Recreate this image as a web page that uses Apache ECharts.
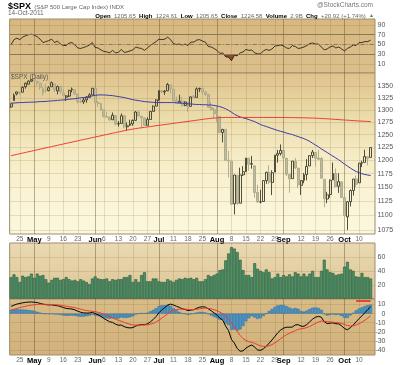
<!DOCTYPE html>
<html><head><meta charset="utf-8">
<script src="https://cdn.jsdelivr.net/npm/echarts@6/dist/echarts.min.js"></script>
<style>html,body{margin:0;padding:0;background:#fff}#c{width:400px;height:365px}</style>
</head><body><div id="c"></div>
<script>
const dates = ['4/19','4/20','4/21','4/25','4/26','4/27','4/28','4/29',
'5/2','5/3','5/4','5/5','5/6','5/9','5/10','5/11','5/12','5/13','5/16','5/17','5/18','5/19','5/20','5/23','5/24','5/25','5/26','5/27','5/31',
'6/1','6/2','6/3','6/6','6/7','6/8','6/9','6/10','6/13','6/14','6/15','6/16','6/17','6/20','6/21','6/22','6/23','6/24','6/27','6/28','6/29','6/30',
'7/1','7/5','7/6','7/7','7/8','7/11','7/12','7/13','7/14','7/15','7/18','7/19','7/20','7/21','7/22','7/25','7/26','7/27','7/28','7/29',
'8/1','8/2','8/3','8/4','8/5','8/8','8/9','8/10','8/11','8/12','8/15','8/16','8/17','8/18','8/19','8/22','8/23','8/24','8/25','8/26','8/29','8/30','8/31',
'9/1','9/2','9/6','9/7','9/8','9/9','9/12','9/13','9/14','9/15','9/16','9/19','9/20','9/21','9/22','9/23','9/26','9/27','9/28','9/29','9/30',
'10/3','10/4','10/5','10/6','10/7','10/10','10/11','10/12','10/13','10/14'];

const open = [1305.99,1319.12,1333.23,1337.14,1336.75,1348.43,1353.86,1360.14,
1365.21,1359.76,1355.90,1344.16,1340.24,1340.20,1348.34,1354.51,1339.39,1348.69,
1334.77,1326.10,1328.54,1342.40,1342.00,1333.07,1317.70,1316.36,1320.64,1325.69,
1331.10,1345.20,1314.55,1312.94,1300.26,1286.31,1284.63,1279.63,1288.26,
1271.31,1272.22,1287.87,1265.53,1268.58,1271.50,1278.40,1295.48,1286.60,1283.04,
1268.44,1280.21,1296.85,1307.64,1320.64,1339.59,1337.56,1339.62,1352.39,
1343.31,1319.61,1314.45,1317.74,1308.87,1315.94,1307.07,1328.66,1325.65,1343.80,
1344.32,1337.39,1331.91,1304.84,1300.12,1292.59,1286.56,1254.25,1260.23,1200.28,
1198.48,1120.23,1171.77,1121.30,1172.87,1178.86,1204.22,1192.89,1189.62,1140.47,
1123.55,1124.36,1162.16,1176.69,1158.85,1177.91,1209.76,1213.00,1219.12,1203.90,
1173.97,1165.85,1197.98,1185.37,1153.50,1162.59,1173.32,1189.44,1209.21,
1214.99,1204.50,1203.63,1164.55,1128.82,1136.91,1163.32,1175.39,1151.74,1159.93,
1131.21,1097.42,1124.03,1144.11,1165.03,1158.15,1194.60,1196.19,1206.96,1205.65];
const high = [1312.70,1334.03,1337.49,1337.55,1349.55,1357.49,1361.71,1364.56,
1370.58,1360.84,1355.90,1348.00,1354.36,1349.44,1359.44,1354.51,1351.05,1350.47,
1343.33,1330.42,1341.82,1346.82,1342.00,1333.07,1323.72,1325.86,1328.51,1334.62,
1345.20,1345.20,1318.03,1312.94,1300.26,1296.22,1287.04,1294.54,1288.26,
1277.04,1292.50,1287.87,1274.11,1279.82,1280.42,1297.62,1298.61,1286.60,1283.93,
1284.91,1296.80,1309.21,1321.97,1341.01,1340.89,1340.94,1356.48,1352.39,
1343.31,1327.17,1331.48,1326.88,1317.70,1315.94,1328.14,1330.43,1347.00,1346.10,
1344.32,1338.51,1331.91,1316.32,1304.16,1307.38,1286.56,1261.20,1260.23,1218.11,
1198.48,1172.88,1171.77,1186.29,1189.04,1204.49,1204.22,1208.47,1189.62,1154.54,
1145.49,1162.35,1178.56,1190.68,1181.23,1210.28,1220.10,1230.71,1229.29,1203.90,
1173.97,1198.62,1204.40,1185.37,1162.52,1176.41,1202.38,1209.11,1220.06,
1214.99,1220.39,1206.30,1164.55,1141.72,1164.19,1195.86,1184.71,1175.87,1159.93,
1138.99,1125.12,1146.07,1165.55,1171.40,1194.91,1199.24,1220.25,1207.46,1224.61];
const low = [1303.97,1319.12,1330.15,1331.47,1336.75,1344.25,1353.60,1358.69,
1358.59,1349.52,1341.50,1329.17,1335.58,1338.64,1348.34,1336.36,1332.03,1333.36,
1327.32,1318.51,1326.59,1336.36,1330.67,1312.88,1313.87,1311.80,1314.41,1325.69,
1331.10,1313.71,1305.61,1297.90,1284.72,1284.74,1277.42,1279.63,1268.28,
1265.64,1272.22,1261.90,1258.07,1267.40,1267.56,1278.40,1286.79,1262.87,1267.24,
1267.53,1280.21,1296.85,1307.64,1318.18,1334.30,1330.92,1339.62,1333.71,
1316.42,1313.33,1314.45,1306.51,1307.35,1295.92,1307.07,1323.65,1325.65,1336.95,
1331.09,1329.10,1303.49,1299.16,1282.86,1274.73,1254.03,1234.56,1199.54,1168.09,
1119.28,1101.54,1118.01,1121.30,1170.74,1178.86,1180.53,1184.36,1131.03,1122.05,
1121.09,1124.36,1156.30,1155.47,1135.91,1177.91,1195.77,1209.35,1203.85,1170.56,
1140.13,1165.85,1183.34,1148.37,1136.07,1157.44,1162.73,1189.44,1204.46,
1188.36,1201.19,1166.21,1114.22,1121.36,1131.07,1163.32,1150.40,1139.93,1131.34,
1098.92,1074.77,1115.68,1134.95,1150.26,1158.15,1187.30,1196.19,1190.58,1205.65];
const close = [1312.62,1330.36,1337.38,1335.25,1347.24,1355.66,1360.48,1363.61,
1361.22,1356.62,1347.32,1335.10,1340.20,1346.29,1357.16,1342.08,1348.65,1337.77,
1329.47,1328.98,1340.68,1343.60,1333.27,1317.37,1316.28,1320.47,1325.69,1331.10,
1345.20,1314.55,1312.94,1300.16,1286.17,1284.94,1279.56,1289.00,1270.98,
1271.83,1287.87,1265.42,1267.64,1271.50,1278.36,1295.52,1287.14,1283.50,1268.45,
1280.10,1296.67,1307.41,1320.64,1339.67,1337.88,1339.22,1353.22,1343.80,
1319.49,1313.64,1317.72,1308.87,1316.14,1305.44,1326.73,1325.84,1343.80,1345.02,
1337.43,1331.94,1304.89,1300.67,1292.28,1286.94,1254.05,1260.34,1200.07,1199.38,
1119.46,1172.53,1120.76,1172.64,1178.81,1204.49,1192.76,1193.89,1140.65,1123.53,
1123.82,1162.35,1177.60,1159.27,1176.80,1210.08,1212.92,1218.89,1204.42,1173.97,
1165.24,1198.62,1185.90,1154.23,1162.27,1172.87,1188.68,1209.11,1216.01,
1204.09,1202.09,1166.76,1129.56,1136.43,1162.95,1175.38,1151.06,1160.40,1131.42,
1099.23,1123.95,1144.03,1164.97,1155.46,1194.89,1195.54,1207.25,1203.66,1224.58];

const ma50 = [1314,1314,1314.5,1315,1315,1315.5,1315.5,1316,1316,1316.5,1317,1317,1317.5,1318,1318.5,1319,1319.5,1320,1320.5,1321,
1322,1322.5,1323,1324,1325,1325.5,1326.5,1327.5,1329,1330,1331,1331,1331,1330.5,1330,1329.5,1328.5,1327.5,1326.5,1325.5,
1324,1322.5,1321,1320,1319,1318,1317,1316.5,1316,1315.5,1315,1315,1315,1315,1315,1315,1315,1314.5,1314,1313.5,
1313,1312.5,1312,1311.5,1311,1311,1310.5,1310.5,1310,1310,1309,1308,1306.5,1304.5,1302,1299,1295,1291,1288,1285.5,
1283.5,1282,1280,1278,1276,1273,1270,1268,1266,1264,1262,1260,1258,1256.5,1255,1253,1251.5,1250,1248,1246,
1244,1242,1239.5,1236.5,1233,1229.5,1226,1222,1218.5,1215,1211.5,1208,1204.5,1201,1197,1193,1189,1185.5,1182,1179,
1177,1175,1173.5,1172.5,1171.5];
const ma200 = [1209,1210.2,1211.5,1212.7,1214,1215.2,1216.5,1217.7,1219,1220.2,1221.5,1222.7,1224,1225.2,1226.5,1227.7,1229,1230.2,1231.5,1232.7,
1234,1235.2,1236.5,1237.7,1239,1240.2,1241.5,1242.7,1244,1245.2,1246.5,1247.7,1249,1250.2,1251.5,1252.7,1254,1255.2,1256.5,1257.7,
1259,1260,1261,1262,1262.8,1263.6,1264.4,1265.2,1266,1266.8,1267.6,1268.4,1269.2,1270,1270.8,1271.6,1272.4,1273.2,1274,1274.8,
1275.6,1276.4,1277.2,1278,1278.8,1279.6,1280.4,1281.2,1282,1282.6,1283.2,1283.6,1284,1284.2,1284.3,1284.4,1284.4,1284.4,1284.4,1284.4,
1284.4,1284.4,1284.4,1284.4,1284.4,1284.4,1284.4,1284.4,1284.4,1284.4,1284.4,1284.4,1284.3,1284.3,1284.2,1284.2,1284.1,1284,1283.9,1283.8,
1283.7,1283.6,1283.5,1283.3,1283.1,1282.9,1282.6,1282.3,1282,1281.6,1281.2,1280.8,1280.4,1280,1279.6,1279.2,1278.8,1278.4,1278,1277.6,
1277.2,1276.9,1276.6,1276.3,1276];

const volume = [31,35,31,24,33,31,32,36,30,36,33,34,28,23,27,30,30,27,28,31,28,26,27,25,28,
26,24,21,29,32,29,28,28,29,25,28,27,28,28,31,31,34,24,28,24,34,38,25,25,29,29,25,24,24,28,
26,24,27,29,28,30,29,30,28,30,
25,25,28,34,32,34,36,41,42,55,65,74,72,67,56,41,34,34,31,51,43,40,38,42,38,29,31,36,31,34,
32,35,32,38,36,32,36,32,36,40,31,31,40,56,42,38,37,34,35,36,46,53,42,40,32,31,37,31,31,29];

const rsi = [50,60,63,60,65,68,70,71,69,66,61,54,56,58,61,54,57,51,48,48,
53,54,49,43,42,44,46,49,54,44,43,39,36,35,33,38,33,34,40,34,
35,37,39,45,43,42,38,43,48,52,56,61,60,61,65,60,52,50,51,49,
51,48,55,55,59,60,57,55,46,45,42,38,32,33,25,24,17,28,27,33,
35,40,38,39,33,31,31,37,40,38,41,47,48,49,47,43,42,48,46,42,
43,45,48,52,53,51,51,45,39,41,45,47,43,45,41,37,42,45,49,48,
54,54,56,56,59];

const macd = [8.0,9.3,10.5,11.2,11.9,12.4,12.7,12.8,12.6,12.1,11.3,10.4,9.9,9.6,9.7,9.0,8.7,7.8,6.7,5.7,
5.4,5.0,4.1,2.7,1.5,0.8,0.6,0.7,1.5,0.0,-1.3,-3.1,-5.4,-7.2,-9.0,-9.7,-11.6,-12.8,-12.6,-14.3,
-15.4,-15.8,-15.4,-13.6,-12.7,-12.0,-12.2,-11.3,-9.2,-6.5,-3.2,1.0,4.2,6.6,9.4,10.5,9.5,8.1,6.9,5.3,
4.6,3.3,3.9,4.3,5.9,7.1,7.5,7.2,5.2,3.2,0.8,-1.6,-5.0,-7.2,-13.8,-18.8,-28.5,-32.5,-38.5,-41.5,
-41.0,-38.0,-36.0,-34.5,-37.0,-40.0,-40.5,-38.8,-36.0,-32.5,-29.0,-25.0,-21.0,-18.0,-16.0,-15.0,-15.0,-14.8,-12.5,-12.2,
-13.8,-14.0,-12.0,-9.0,-6.0,-4.0,-3.0,-4.0,-9.0,-11.0,-10.5,-10.2,-11.2,-11.3,-13.5,-16.5,-17.8,-15.5,-12.5,-9.0,
-5.5,-2.5,1.0,4.5,7.5];
const signal = [4.0,4.8,5.7,6.6,7.4,8.1,8.8,9.3,9.8,10.1,10.3,10.3,10.2,10.1,10.0,9.8,9.6,9.2,8.7,8.1,
7.6,7.1,6.5,5.7,4.9,4.1,3.4,2.9,2.6,2.1,1.4,0.5,-0.7,-2.0,-3.4,-4.7,-6.1,-7.4,-8.4,-9.6,
-10.8,-11.8,-12.5,-12.7,-12.7,-12.6,-12.5,-12.3,-11.7,-10.7,-9.2,-7.2,-4.9,-2.6,-0.2,2.0,3.5,4.4,4.9,5.0,
4.9,4.6,4.5,4.4,4.7,5.2,5.7,6.0,5.8,5.3,4.4,3.2,1.6,-0.2,-3.0,-6.2,-10.6,-15.0,-19.7,-24.1,
-27.5,-29.6,-30.9,-31.6,-32.7,-34.2,-35.4,-36.1,-36.1,-35.4,-34.1,-32.3,-30.0,-27.6,-25.3,-23.2,-21.6,-20.2,-18.7,-17.4,
-16.7,-16.2,-15.4,-14.1,-12.5,-10.8,-9.2,-8.2,-8.4,-8.9,-9.2,-9.4,-9.8,-10.1,-10.8,-11.9,-13.1,-13.6,-13.4,-12.5,
-11.1,-9.4,-7.3,-4.9,-2.4];
const hist = [4.0,4.5,4.8,4.6,4.5,4.3,3.9,3.5,2.8,2.0,1.0,0.1,-0.3,-0.5,-0.3,-0.8,-0.9,-1.4,-2.0,-2.4,
-2.2,-2.1,-2.4,-3.0,-3.4,-3.3,-2.8,-2.2,-1.1,-2.1,-2.7,-3.6,-4.7,-5.2,-5.6,-5.0,-5.5,-5.4,-4.2,-4.7,
-4.6,-4.0,-2.9,-0.9,0.0,0.6,0.3,1.0,2.5,4.2,6.0,8.2,9.1,9.2,9.6,8.5,6.0,3.7,2.0,0.3,
-0.3,-1.3,-0.6,-0.1,1.2,1.9,1.8,1.2,-0.6,-2.1,-3.6,-4.8,-6.6,-7.0,-10.8,-12.6,-17.9,-17.5,-18.8,-17.4,
-13.5,-8.4,-5.1,-2.9,-4.3,-5.8,-5.1,-2.7,0.1,2.9,5.1,7.3,9.0,9.6,9.3,8.2,6.6,5.4,6.2,5.2,
2.9,2.2,3.4,5.1,6.5,6.8,6.2,4.2,-0.6,-2.1,-1.3,-0.8,-1.4,-1.2,-2.7,-4.6,-4.7,-1.9,0.9,3.5,
5.6,6.9,8.3,9.4,9.9];

const tickDates = ['4/25','5/2','5/9','5/16','5/23','6/1','6/6','6/13','6/20','6/27','7/1','7/11','7/18','7/25','8/1','8/8','8/15','8/22','8/29','9/1','9/12','9/19','9/26','10/3','10/10'];
const tickText = ['25','May','9','16','23','Jun','6','13','20','27','Jul','11','18','25','Aug','8','15','22','29','Sep','12','19','26','Oct','10'];
const monthDates = ['5/2','6/1','7/1','8/1','9/1','10/3'];
const priceTicks = [1075,1100,1125,1150,1175,1200,1225,1250,1275,1300,1325,1350];
const rsiTicks = [10,30,50,70,90];
const volTicks = [20,40,60];
const macdTicks = [-40,-30,-20,-10,0,10];

const cats = dates.concat(['']);
const ohlc = dates.map((d, i) => [open[i], close[i], low[i], high[i]]);
const last = dates.length - 1;

const FONT = 'Arial';
const L = 9.65, R = 25;
const border = '#a08c6c';
const gridLine = 'rgba(120,90,40,0.16)';
const monthLine = 'rgba(100,75,35,0.32)';
function lg(stops) { return {type:'linear', x:0, y:0, x2:0, y2:1, colorStops: stops.map((c, i) => ({offset: i/(stops.length-1), color: c}))}; }

const grids = [
  {top:19, height:54, bg: lg(['#d6b880','#dcc08c'])},
  {top:73, height:161, bg: lg(['#dfc28b','#eadaa8','#f5ebc4','#faf4d6','#fbf8de'])},
  {top:243, height:55.7, bg: lg(['#eadab2','#dcc494'])},
  {top:299, height:56, bg: lg(['#d8bb86','#d2b27c'])}
];

function labelFmt(v) {
  const k = tickDates.indexOf(v);
  if (k < 0) return '';
  const t = tickText[k];
  return isNaN(+t) ? '{m|' + t + '}' : '{d|' + t + '}';
}
const xAxes = [];
grids.forEach((g, gi) => {
  const showLab = gi === 1 || gi === 3;
  xAxes.push({
    type:'category', gridIndex: gi, data: cats, boundaryGap: true,
    axisLine:{show:false}, axisTick:{show:false},
    axisLabel:{show: showLab, interval: (i, v) => tickDates.indexOf(v) >= 0, formatter: labelFmt, margin: 2,
      rich:{m:{fontFamily:FONT, fontSize:7.5, fontWeight:'bold', color:'#000'}, d:{fontFamily:FONT, fontSize:6.5, color:'#666'}}},
    splitLine:{show:true, alignWithLabel:true, interval: (i, v) => tickDates.indexOf(v) >= 0, lineStyle:{color: gridLine, width:1}}
  });
});
grids.forEach((g, gi) => {
  xAxes.push({
    type:'category', gridIndex: gi, data: cats, boundaryGap: true, show: true,
    axisLine:{show:false}, axisTick:{show:false}, axisLabel:{show:false},
    splitLine:{show:true, alignWithLabel:true, interval: (i, v) => monthDates.indexOf(v) >= 0, lineStyle:{color: monthLine, width:1}}
  });
});

const yLab = {fontFamily:FONT, fontSize:7, color:'#555', margin:2.5};
const yAxes = [
  {type:'value', gridIndex:0, position:'right', min:-8, max:102,
   axisLine:{show:false}, axisTick:{show:false, customValues: rsiTicks},
   axisLabel:Object.assign({customValues: rsiTicks}, yLab),
   splitLine:{show:true, lineStyle:{color: gridLine}}},
  {type:'log', logBase:10, gridIndex:1, position:'right', min:1068, max:1378,
   axisLine:{show:false}, axisTick:{show:false, customValues: priceTicks},
   axisLabel:Object.assign({customValues: priceTicks, formatter: v => String(Math.round(v))}, yLab),
   splitLine:{show:true, lineStyle:{color: gridLine}}},
  {type:'value', gridIndex:2, position:'right', min:0, max:80,
   axisLine:{show:false}, axisTick:{show:false, customValues: volTicks},
   axisLabel:Object.assign({customValues: volTicks}, yLab),
   splitLine:{show:true, lineStyle:{color: gridLine}}},
  {type:'value', gridIndex:3, position:'right', min:-45.6, max:16.1,
   axisLine:{show:false}, axisTick:{show:false, customValues: macdTicks},
   axisLabel:Object.assign({}, yLab, {customValues: macdTicks, align:'right', margin:10.5}),
   splitLine:{show:true, lineStyle:{color: gridLine}}}
];

const option = {
  animation: false,
  backgroundColor: '#ffffff',
  grid: grids.map(g => ({left:L, right:R, top:g.top, height:g.height, show:true, backgroundColor:g.bg, borderColor:border, borderWidth:1})),
  xAxis: xAxes,
  yAxis: yAxes,
  visualMap: [{type:'piecewise', show:false, seriesIndex:1, dimension:1,
    pieces:[{gte:-20, lt:30, color:'#8e4a2c'}, {gte:30, lte:120, color:'rgba(0,0,0,0)'}]}],
  series: [
    {type:'line', name:'RSI', xAxisIndex:0, yAxisIndex:0, data: rsi, showSymbol:false, z:4,
     lineStyle:{color:'#111', width:0.8}, itemStyle:{color:'#111'},
     markLine:{silent:true, symbol:'none', label:{show:false}, animation:false,
       data:[{yAxis:70, lineStyle:{color:'#8a7658', type:'solid', width:1}},
             {yAxis:30, lineStyle:{color:'#8a7658', type:'solid', width:1}},
             {yAxis:50, lineStyle:{color:'#8a7658', type:[4,2,1,2], width:1}}]}},
    {type:'line', name:'RSIfill', xAxisIndex:0, yAxisIndex:0, data: rsi, showSymbol:false, z:3,
     lineStyle:{width:0}, areaStyle:{origin:30, opacity:1}},
    {type:'candlestick', xAxisIndex:1, yAxisIndex:1, data: ohlc, barWidth:2.4, z:3,
     itemStyle:{color:'rgba(255,255,255,0)', color0:'#bfbb9b', borderColor:'#3d3d2c', borderColor0:'#aaa688', borderWidth:0.9}},
    {type:'line', name:'MA50', xAxisIndex:1, yAxisIndex:1, data: ma50, showSymbol:false, z:4,
     lineStyle:{color:'#3c3ca8', width:1}},
    {type:'line', name:'MA200', xAxisIndex:1, yAxisIndex:1, data: ma200, showSymbol:false, z:4,
     lineStyle:{color:'#f03c32', width:1}},
    {type:'bar', xAxisIndex:2, yAxisIndex:2, data: volume, barCategoryGap:'0%',
     itemStyle:{color:'#4c9068', borderColor:'#2a5a3a', borderWidth:0.6}},
    {type:'bar', xAxisIndex:3, yAxisIndex:3, data: hist, barCategoryGap:'0%', z:2,
     itemStyle:{color:'#4a98cc', borderColor:'#2a6a98', borderWidth:0.5},
     markLine:{silent:true, symbol:'none', label:{show:false}, animation:false,
       data:[[{coord:[dates[119], 14], lineStyle:{color:'#e82020', width:1.5, type:'solid'}}, {coord:[dates[last], 14]}]]}},
    {type:'line', xAxisIndex:3, yAxisIndex:3, data: macd, showSymbol:false, z:4,
     lineStyle:{color:'#000', width:1}},
    {type:'line', xAxisIndex:3, yAxisIndex:3, data: signal, showSymbol:false, z:4,
     lineStyle:{color:'#ee3a30', width:1}}
  ],
  graphic: [
    {type:'text', left:8, top:1, style:{text:'{a|$SPX} {b|(S&P 500 Large Cap Index) INDX}',
      rich:{a:{fontFamily:FONT, fontSize:9, fontWeight:'bold', fill:'#000'}, b:{fontFamily:FONT, fontSize:6, fill:'#666'}}}},
    {type:'text', right:27, top:2, style:{text:'@StockCharts.com', fontFamily:FONT, fontSize:6.5, fill:'#777'}},
    {type:'text', left:8, top:10, style:{text:'14-Oct-2011', fontFamily:FONT, fontSize:6.5, fill:'#666'}},
    {type:'text', right:26, top:10, style:{
      text:'{k|Open} {v|' + open[last].toFixed(2) + '} {k|High} {v|' + high[last].toFixed(2) + '} {k|Low} {v|' + low[last].toFixed(2) +
           '} {k|Close} {v|' + close[last].toFixed(2) + '} {k|Volume} {v|2.9B} {k|Chg} {v|+' + (close[last]-close[last-1]).toFixed(2) +
           ' (+' + ((close[last]/close[last-1]-1)*100).toFixed(2) + '%)} {g|▲}',
      rich:{k:{fontFamily:FONT, fontSize:6, fontWeight:'bold', fill:'#000'}, v:{fontFamily:FONT, fontSize:6, fill:'#666'},
            g:{fontFamily:FONT, fontSize:5, fill:'#2a9a3a'}}}},
    {type:'text', left:11, top:74, z:10, style:{text:'$SPX (Daily)', fontFamily:FONT, fontSize:6.5, fill:'#555'}}
  ]
};
const chart = echarts.init(document.getElementById('c'), null, {renderer:'canvas'});
chart.setOption(option);
</script></body></html>
